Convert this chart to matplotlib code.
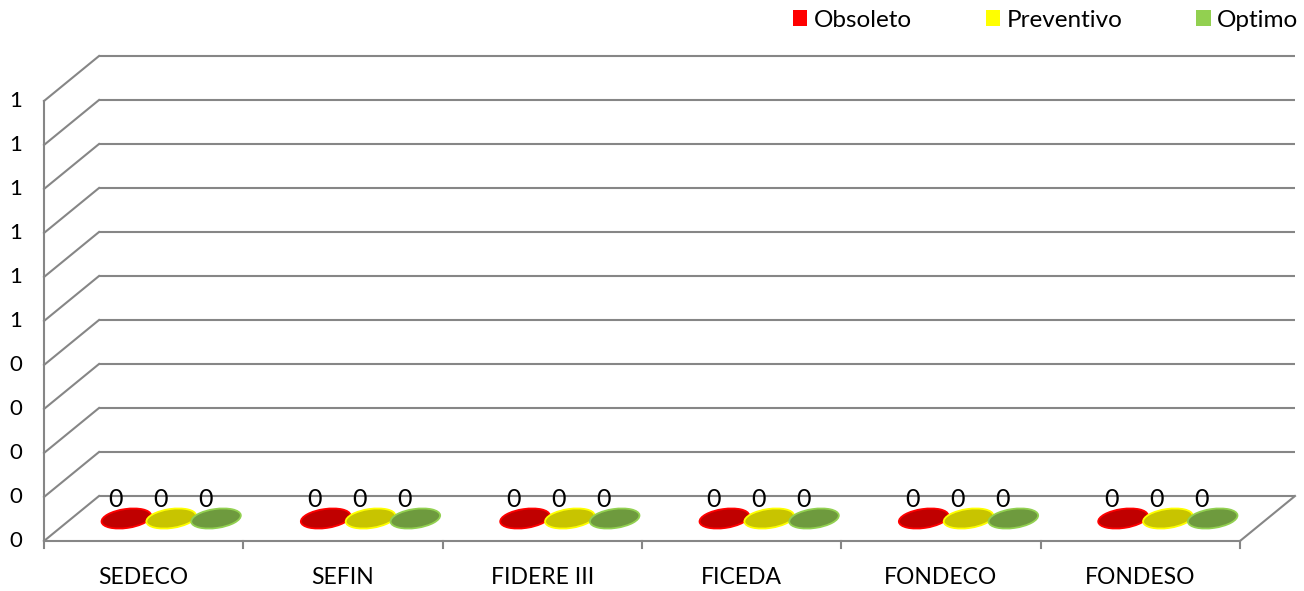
import matplotlib
matplotlib.use("Agg")
import matplotlib.pyplot as plt
import numpy as np
from matplotlib.patches import Ellipse, Patch
from matplotlib.transforms import ScaledTranslation

plt.rcParams['font.family'] = ['Lato', 'DejaVu Sans']

categories = ["SEDECO", "SEFIN", "FIDERE III", "FICEDA", "FONDECO", "FONDESO"]
series_names = ["Obsoleto", "Preventivo", "Optimo"]
obsoleto = [0, 0, 0, 0, 0, 0]
preventivo = [0, 0, 0, 0, 0, 0]
optimo = [0, 0, 0, 0, 0, 0]
series_values = [obsoleto, preventivo, optimo]
ytick_values = [0.0, 0.1, 0.2, 0.3, 0.4, 0.5, 0.6, 0.7, 0.8, 0.9, 1.0]

fill_colors = ["#C00000", "#C8C400", "#6E9A3E"]
edge_colors = ["#FF0000", "#FFFF00", "#92D050"]
legend_colors = ["#FF0000", "#FFFF00", "#92D050"]
grid_color = "#868686"
FS_CAT = 16.5
FS_Y = 16
FS_DATA = 18
FS_LEG = 17.5


def fmt(v):
    return f"{int(np.floor(v + 0.5 + 1e-9))}"


W, H = 1304, 591
fig = plt.figure(figsize=(W / 100, H / 100), dpi=100)
ax = fig.add_axes([44 / W, (H - 541) / H, (1240 - 44) / W, (541 - 101) / H])
ax.set_xlim(-0.5, len(categories) - 0.5)
ax.set_ylim(0, 1)
ax.axis("off")

dx_in, dy_in = 0.55, 0.45  # depth offset in inches
back = ax.transData + ScaledTranslation(dx_in, dy_in, fig.dpi_scale_trans)
mid = ax.transData + ScaledTranslation(dx_in / 2, dy_in / 2, fig.dpi_scale_trans)
lw = 1.5
x0, x1 = -0.5, len(categories) - 0.5

# back wall gridlines and left wall diagonals
for v in ytick_values:
    ax.plot([x0, x1], [v, v], color=grid_color, lw=lw, transform=back, clip_on=False,
            solid_capstyle="butt")
    p_front = ax.transData.transform((x0, v))
    p_back = back.transform((x0, v))
    fig.add_artist(plt.Line2D([p_front[0] / W, p_back[0] / W], [p_front[1] / H, p_back[1] / H],
                              color=grid_color, lw=lw, transform=fig.transFigure))

# front vertical axis
ax.plot([x0, x0], [0, 1], color=grid_color, lw=lw, clip_on=False)
# floor front edge
ax.plot([x0, x1], [0, 0], color=grid_color, lw=lw, clip_on=False)
# floor right edge
pf = ax.transData.transform((x1, 0))
pb = back.transform((x1, 0))
fig.add_artist(plt.Line2D([pf[0] / W, pb[0] / W], [pf[1] / H, pb[1] / H],
                          color=grid_color, lw=lw, transform=fig.transFigure))

# category tick marks
for i in range(len(categories) + 1):
    xb = i - 0.5
    p = ax.transData.transform((xb, 0))
    fig.add_artist(plt.Line2D([p[0] / W, p[0] / W], [p[1] / H, (p[1] - 7) / H],
                              color=grid_color, lw=lw, transform=fig.transFigure))

# y tick labels
for v in ytick_values:
    ax.text(x0, v, fmt(v), transform=ax.transData + ScaledTranslation(-0.28, 0, fig.dpi_scale_trans),
            ha="center", va="center", fontsize=FS_Y, color="black")

# category labels
for i, c in enumerate(categories):
    ax.text(i, 0, c, transform=ax.transData + ScaledTranslation(0, -0.37, fig.dpi_scale_trans),
            ha="center", va="center", fontsize=FS_CAT, color="black")

# ellipses (zero-height cylinders)
sep = 0.225
for s, vals in enumerate(series_values):
    for i, v in enumerate(vals):
        xc = i + (s - 1) * sep
        tr = fig.dpi_scale_trans + ScaledTranslation(xc, v, mid)
        e = Ellipse((0, 0), width=0.5, height=0.19, angle=8, facecolor=fill_colors[s],
                    edgecolor=edge_colors[s], lw=1.3, transform=tr)
        fig.add_artist(e)
        ax.text(xc, v, fmt(v), transform=mid + ScaledTranslation(-0.11, 0.19, fig.dpi_scale_trans),
                ha="center", va="center", fontsize=FS_DATA, color="black")

handles = [Patch(facecolor=legend_colors[k], edgecolor="none", label=series_names[k]) for k in range(3)]
fig.legend(handles=handles, loc="upper right", bbox_to_anchor=(1.004, 1.002), ncol=3, frameon=False,
           fontsize=FS_LEG, handlelength=0.6, handleheight=0.6, handletextpad=0.25,
           columnspacing=3.05, borderaxespad=0.05)

fig.savefig("out.png", dpi=100)
